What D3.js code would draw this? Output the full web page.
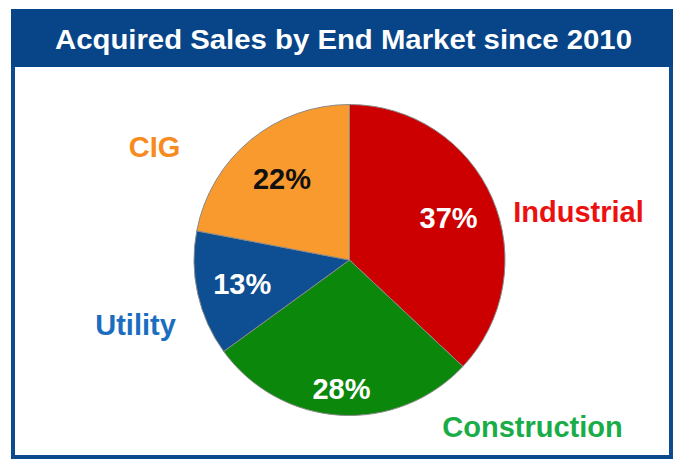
<!DOCTYPE html>
<html>
<head>
<meta charset="utf-8">
<script src="https://cdn.jsdelivr.net/npm/d3@7"></script>
<style>
  html, body { margin: 0; padding: 0; background: #ffffff; }
  svg { display: block; }
</style>
</head>
<body>
<svg id="chart" width="677" height="460"></svg>
<script>
// ---- data ----
const title = "Acquired Sales by End Market since 2010";
const categories = ["Industrial", "Construction", "Utility", "CIG"];
const values = [37, 28, 13, 22];
const valueLabels = ["37%", "28%", "13%", "22%"];

// ---- styles / layout ----
const sliceColors = ["#CC0000", "#0B880B", "#0D4F92", "#F99A2F"];
const nameColors = ["#EC1010", "#19AC48", "#1B6DC0", "#F78B1E"];
const valueTextColors = ["#ffffff", "#ffffff", "#ffffff", "#111111"];
const valueLabelRadius = [108, 129, 110, 106];
// category label anchor offsets from pie centre (text-anchor middle, baseline)
const nameOffsets = [[229, -38], [183, 177], [-214, 75], [-195, -103]];

const W = 677, H = 460;
const cx = 349.5, cy = 260, R = 155.5;
const font = "'Liberation Sans', Arial, Helvetica, sans-serif";

const svg = d3.select("#chart");

// frame
svg.append("rect")
  .attr("x", 13).attr("y", 11).attr("width", 658).attr("height", 446)
  .attr("fill", "#ffffff").attr("stroke", "#0E4A8E").attr("stroke-width", 4);

// title bar
svg.append("rect")
  .attr("x", 11).attr("y", 9).attr("width", 662).attr("height", 58)
  .attr("fill", "#074588");

svg.append("text")
  .attr("x", 343.5).attr("y", 48.5)
  .attr("text-anchor", "middle")
  .attr("font-family", font).attr("font-weight", "bold")
  .attr("font-size", 27.5)
  .attr("textLength", 577).attr("lengthAdjust", "spacingAndGlyphs")
  .attr("fill", "#ffffff")
  .text(title);

// pie
const data = categories.map((c, i) => ({ name: c, value: values[i], i }));
const pie = d3.pie().value(d => d.value).sort(null);
const arcs = pie(data);
const arc = d3.arc().innerRadius(0).outerRadius(R);

const g = svg.append("g").attr("transform", `translate(${cx},${cy})`);

g.selectAll("path.slice")
  .data(arcs)
  .join("path")
  .attr("class", "slice")
  .attr("d", arc)
  .attr("fill", d => sliceColors[d.data.i])
  .attr("stroke", "#8a8a8a")
  .attr("stroke-width", 1);

// value labels
g.selectAll("text.val")
  .data(arcs)
  .join("text")
  .attr("class", "val")
  .attr("transform", d => {
    const r = valueLabelRadius[d.data.i];
    const c = d3.arc().innerRadius(r).outerRadius(r).centroid(d);
    return `translate(${c[0]},${c[1]})`;
  })
  .attr("text-anchor", "middle")
  .attr("dy", "0.36em")
  .attr("font-family", font).attr("font-weight", "bold")
  .attr("font-size", 29)
  .attr("fill", d => valueTextColors[d.data.i])
  .text(d => valueLabels[d.data.i]);

// category labels
g.selectAll("text.name")
  .data(arcs)
  .join("text")
  .attr("class", "name")
  .attr("x", d => nameOffsets[d.data.i][0])
  .attr("y", d => nameOffsets[d.data.i][1])
  .attr("text-anchor", "middle")
  .attr("font-family", font).attr("font-weight", "bold")
  .attr("font-size", 29)
  .attr("fill", d => nameColors[d.data.i])
  .text(d => d.data.name);
</script>
</body>
</html>
